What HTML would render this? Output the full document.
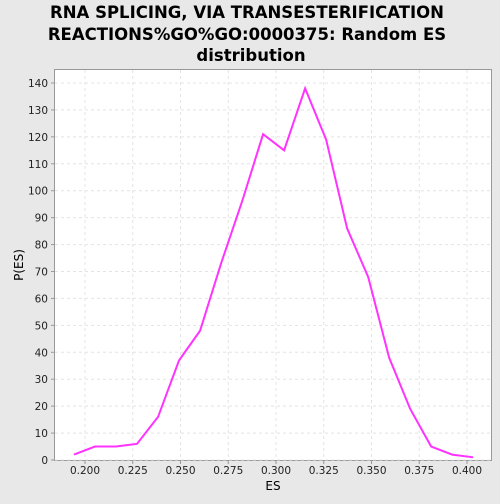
<!DOCTYPE html>
<html><head><meta charset="utf-8"><style>
body{margin:0;background:#e8e8e8;font-family:"DejaVu Sans","Liberation Sans",sans-serif}
</style></head><body>
<svg width="500" height="500" xmlns="http://www.w3.org/2000/svg">
<rect width="500" height="500" fill="#e8e8e8"/>
<g font-size="16.5" font-weight="bold" text-anchor="middle" fill="#000">
<text x="247" y="18">RNA SPLICING, VIA TRANSESTERIFICATION</text>
<text x="247" y="40">REACTIONS%GO%GO:0000375: Random ES</text>
<text x="251" y="61">distribution</text>
</g>
<rect x="54.5" y="69.5" width="437" height="391" fill="#fff" stroke="#999"/>
<g id="grid"></g>
<g id="axes" font-size="10.5" fill="#222"></g>
<polyline id="line" fill="none" stroke="#ff33ff" stroke-width="2"/>
<text x="273" y="490" font-size="12" text-anchor="middle">ES</text>
<text x="23" y="265" font-size="12" text-anchor="middle" transform="rotate(-90 23 265)">P(ES)</text>
</svg>
<script>
const xStart=0.19424, xStep=0.011;
const yValues=[2,5,5,6,16,37,48,73,96,121,115,138,119,86,68,38,19,5,2,1];
const xTicks=[0.200,0.225,0.250,0.275,0.300,0.325,0.350,0.375,0.400];
const yTicks=[0,10,20,30,40,50,60,70,80,90,100,110,120,130,140];
const sx=v=>85+(v-0.2)/0.2*382;
const sy=v=>460-v/140*377;
const NS="http://www.w3.org/2000/svg";
const grid=document.getElementById('grid'),axes=document.getElementById('axes');
function mk(tag,attrs,parent){const e=document.createElementNS(NS,tag);for(const k in attrs)e.setAttribute(k,attrs[k]);parent.appendChild(e);return e;}
xTicks.forEach(t=>{const x=sx(t);
const g=mk('line',{x1:x,x2:x,y1:70,y2:460,stroke:'#e4e4e4','stroke-dasharray':'3,3'},grid);

const k=mk('line',{x1:x,x2:x,y1:460,y2:464,stroke:'#999'},axes);

const l=mk('text',{x:x,y:474,'text-anchor':'middle'},axes);l.textContent=t.toFixed(3);
});
yTicks.forEach(t=>{const y=sy(t);
const g=mk('line',{x1:55,x2:491,y1:y,y2:y,stroke:'#e4e4e4','stroke-dasharray':'3,3'},grid);

const k=mk('line',{x1:51,x2:55,y1:y,y2:y,stroke:'#999'},axes);

const l=mk('text',{x:48,y:y+4,'text-anchor':'end'},axes);l.textContent=t;
});
document.getElementById('line').setAttribute('points',yValues.map((v,i)=>sx(xStart+i*xStep)+','+sy(v)).join(' '));
</script>
</body></html>
